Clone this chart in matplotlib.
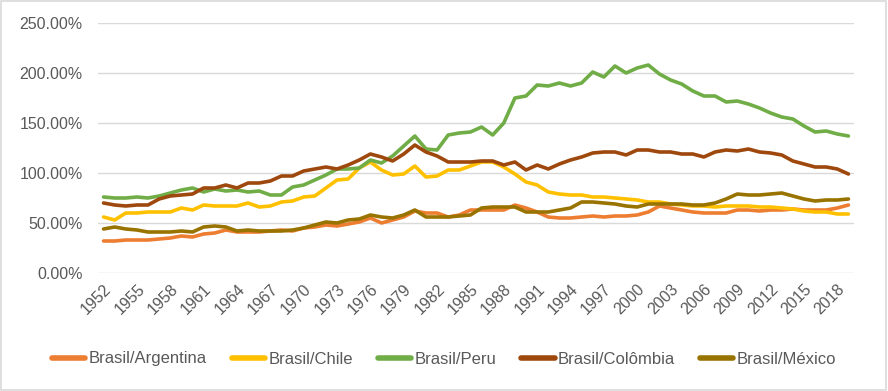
import numpy as np
import matplotlib
matplotlib.use("Agg")
import matplotlib.pyplot as plt
from matplotlib.ticker import PercentFormatter
from matplotlib.patches import Rectangle

years = list(range(1952, 2020))

argentina = [32, 32, 33, 33, 33, 34, 35, 37, 36, 39, 40, 43, 41, 41, 41, 42, 43, 42, 45, 46,
             48, 47, 49, 51, 55, 50, 53, 56, 62, 60, 60, 56, 58, 63, 63, 63, 63, 68, 65, 61,
             56, 55, 55, 56, 57, 56, 57, 57, 58, 61, 67, 65, 63, 61, 60, 60, 60, 63, 63, 62,
             63, 63, 64, 63, 63, 63, 65, 68]
chile = [56, 53, 60, 60, 61, 61, 61, 65, 63, 68, 67, 67, 67, 70, 66, 67, 71, 72, 76, 77,
         85, 93, 94, 105, 111, 103, 98, 99, 107, 96, 97, 103, 103, 107, 111, 111, 106, 99, 91, 88,
         81, 79, 78, 78, 76, 76, 75, 74, 73, 71, 71, 69, 68, 67, 67, 66, 67, 67, 67, 66,
         66, 65, 64, 62, 61, 61, 59, 59]
peru = [76, 75, 75, 76, 75, 77, 80, 83, 85, 81, 84, 82, 83, 81, 82, 78, 78, 86, 88, 93,
        98, 104, 104, 105, 113, 110, 117, 127, 137, 124, 123, 138, 140, 141, 146, 138, 150, 175, 177, 188,
        187, 190, 187, 190, 201, 196, 207, 200, 205, 208, 199, 193, 189, 182, 177, 177, 171, 172, 169, 165,
        160, 156, 154, 147, 141, 142, 139, 137]
colombia = [70, 68, 67, 68, 68, 74, 77, 78, 79, 85, 85, 88, 85, 90, 90, 92, 97, 97, 102, 104,
            106, 104, 108, 113, 119, 116, 112, 119, 128, 121, 117, 111, 111, 111, 112, 112, 108, 111, 103, 108,
            104, 109, 113, 116, 120, 121, 121, 118, 123, 123, 121, 121, 119, 119, 116, 121, 123, 122, 124, 121,
            120, 118, 112, 109, 106, 106, 104, 99]
mexico = [44, 46, 44, 43, 41, 41, 41, 42, 41, 46, 47, 46, 42, 43, 42, 42, 42, 43, 45, 48,
          51, 50, 53, 54, 58, 56, 55, 58, 63, 56, 56, 56, 57, 58, 65, 66, 66, 66, 61, 61,
          61, 63, 65, 71, 71, 70, 69, 67, 66, 69, 69, 69, 69, 68, 68, 70, 74, 79, 78, 78,
          79, 80, 77, 74, 72, 73, 73, 74]

series = [
    ("Brasil/Argentina", argentina, "#ED7D31"),
    ("Brasil/Chile", chile, "#FFC000"),
    ("Brasil/Peru", peru, "#70AD47"),
    ("Brasil/Colômbia", colombia, "#9E480E"),
    ("Brasil/México", mexico, "#997300"),
]

plt.rcParams["font.family"] = ["Liberation Sans", "DejaVu Sans"]

fig = plt.figure(figsize=(8.88, 3.91), dpi=100)
ax = fig.add_axes([98 / 888, 1 - 273 / 391, (854 - 98) / 888, (273 - 23) / 391])

for name, vals, col in series:
    ax.plot(years, vals, color=col, lw=2.6, label=name, solid_capstyle="round")

ax.set_xlim(1951.5, 2019.5)
ax.set_ylim(0, 250)
ax.set_yticks(np.arange(0, 251, 50))
ax.yaxis.set_major_formatter(PercentFormatter(decimals=2))
ax.set_xticks(years[::3])
ax.set_xticklabels([str(y) for y in years[::3]], rotation=45, ha="right",
                   rotation_mode="anchor")
ax.tick_params(axis="both", length=0, labelsize=11.5, colors="#595959")
ax.tick_params(axis="x", pad=6)
ax.tick_params(axis="y", pad=11)
ax.grid(axis="y", color="#D9D9D9", lw=1)
ax.set_axisbelow(True)
for s in ax.spines.values():
    s.set_visible(False)

leg = fig.legend(loc="center", bbox_to_anchor=(0.5, 1 - 359 / 391), ncol=5,
                 frameon=False, fontsize=12, handlelength=2.0, columnspacing=1.5,
                 handletextpad=0.2)
for t in leg.get_texts():
    t.set_color("#595959")
for h in leg.get_lines():
    h.set_linewidth(4)

fig.patches.append(Rectangle((0.001, 0.002), 0.997, 0.995, transform=fig.transFigure,
                             fill=False, edgecolor="#D9D9D9", lw=1.2))

fig.savefig("out.png", dpi=100, facecolor="white")
